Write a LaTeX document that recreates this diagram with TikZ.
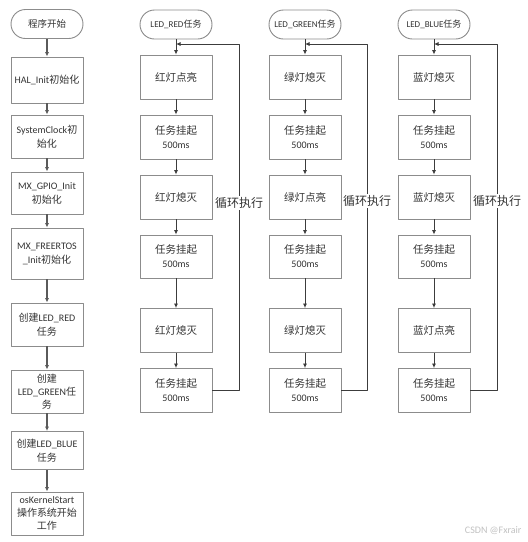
\documentclass[tikz,border=0pt]{standalone}
\usepackage{fontspec}
\setmainfont{Carlito}
\newfontfamily\zhfont{Noto Sans CJK SC}
\newcommand\zh[1]{{\zhfont #1}}
\usetikzlibrary{arrows.meta}
\definecolor{flowEdge}{HTML}{8C8C8C}
\definecolor{flowLine}{HTML}{3C3C3C}
\definecolor{flowGrey}{HTML}{5A5A5A}
\definecolor{flowInk}{HTML}{333333}
\definecolor{flowMark}{HTML}{C2C2C2}

\begin{document}
\begin{tikzpicture}[x=1pt,y=-1pt,>={Latex[length=4.5pt,width=4pt]},line join=round]
\path[fill=white] (0,0) rectangle (528,542);
\tikzset{box/.style={draw=flowEdge,fill=white,line width=0.9pt,minimum width=72pt,minimum height=44pt,align=center,text=flowInk,inner sep=1pt,font=\fontsize{10.5}{14}\selectfont},term/.style={box,rounded corners=14.5pt,minimum height=29pt},flow/.style={draw=flowLine,line width=0.8pt,->},mainflow/.style={draw=flowGrey,line width=1.3pt,->},looptext/.style={fill=white,inner sep=1pt,text=flowInk,font=\zhfont\fontsize{12}{14}\selectfont}}
% start-up sequence
\node[term,minimum width=72pt,font=\zhfont\fontsize{9.5}{12}\selectfont] (s0) at (47,24) {程序开始};
\node[box,minimum height=46pt,font=\fontsize{10}{14}\selectfont] (l1) at (47,80) {HAL\_Init\zh{初始化}};
\node[box,minimum height=43pt,font=\fontsize{10}{14}\selectfont] (l2) at (47,136.5) {SystemClock\zh{初}\\\zh{始化}};
\node[box,minimum height=42pt,font=\fontsize{10}{14}\selectfont] (l3) at (47,193) {MX\_GPIO\_Init\\\zh{初始化}};
\node[box,minimum height=51pt,font=\fontsize{10}{14}\selectfont] (l4) at (47,253.5) {MX\_FREERTOS\\\_Init\zh{初始化}};
\node[box,minimum height=43pt,font=\fontsize{10}{14}\selectfont] (l5) at (47,324.5) {\zh{创建}LED\_RED\\\zh{任务}};
\node[box,minimum height=43pt,font=\fontsize{10}{13}\selectfont] (l6) at (47,391.5) {\zh{创建}\\LED\_GREEN\zh{任}\\\zh{务}};
\node[box,minimum height=38pt,font=\fontsize{10}{14}\selectfont] (l7) at (47,450.5) {\zh{创建}LED\_BLUE\\\zh{任务}};
\node[box,minimum height=43pt,font=\fontsize{10}{13}\selectfont] (l8) at (47,513.5) {osKernelStart\\\zh{操作系统开始}\\\zh{工作}};
\foreach \a/\b in {s0/l1,l1/l2,l2/l3,l3/l4,l4/l5,l5/l6,l6/l7,l7/l8} \draw[mainflow] (\a) -- (\b);
% red task
\node[term,font=\fontsize{9}{10}\selectfont] (r0) at (176,24.5) {LED\_RED\zh{任务}};
\node[box] (r1) at (176,77) {\zh{红灯点亮}};
\node[box] (r2) at (176,137) {\zh{任务挂起}\\{\fontsize{10}{11}\selectfont 500ms}};
\node[box] (r3) at (176,197) {\zh{红灯熄灭}};
\node[box,minimum height=43pt] (r4) at (176,256.5) {\zh{任务挂起}\\{\fontsize{10}{11}\selectfont 500ms}};
\node[box] (r5) at (176,330.5) {\zh{红灯熄灭}};
\node[box] (r6) at (176,390.5) {\zh{任务挂起}\\{\fontsize{10}{11}\selectfont 500ms}};
\foreach \a/\b in {r0/r1,r1/r2,r2/r3,r3/r4,r4/r5,r5/r6} \draw[flow] (\a) -- (\b);
\coordinate (rtop) at (176,44); \coordinate (rturn) at (239,44);
\draw[flow] (r6.east) -| (rturn) -- (rtop);
\node[looptext] (rlab) at (239,203) {循环执行};
% green task
\node[term,font=\fontsize{9}{10}\selectfont] (g0) at (305,24.5) {LED\_GREEN\zh{任务}};
\node[box] (g1) at (305,77) {\zh{绿灯熄灭}};
\node[box] (g2) at (305,137) {\zh{任务挂起}\\{\fontsize{10}{11}\selectfont 500ms}};
\node[box] (g3) at (305,197) {\zh{绿灯点亮}};
\node[box,minimum height=43pt] (g4) at (305,256.5) {\zh{任务挂起}\\{\fontsize{10}{11}\selectfont 500ms}};
\node[box] (g5) at (305,330.5) {\zh{绿灯熄灭}};
\node[box] (g6) at (305,390.5) {\zh{任务挂起}\\{\fontsize{10}{11}\selectfont 500ms}};
\foreach \a/\b in {g0/g1,g1/g2,g2/g3,g3/g4,g4/g5,g5/g6} \draw[flow] (\a) -- (\b);
\coordinate (gtop) at (305,44); \coordinate (gturn) at (367,44);
\draw[flow] (g6.east) -| (gturn) -- (gtop);
\node[looptext] (glab) at (367,201) {循环执行};
% blue task
\node[term,font=\fontsize{9}{10}\selectfont] (b0) at (434,24.5) {LED\_BLUE\zh{任务}};
\node[box] (b1) at (434,77) {\zh{蓝灯熄灭}};
\node[box] (b2) at (434,137) {\zh{任务挂起}\\{\fontsize{10}{11}\selectfont 500ms}};
\node[box] (b3) at (434,197) {\zh{蓝灯熄灭}};
\node[box,minimum height=43pt] (b4) at (434,256.5) {\zh{任务挂起}\\{\fontsize{10}{11}\selectfont 500ms}};
\node[box] (b5) at (434,330.5) {\zh{蓝灯点亮}};
\node[box] (b6) at (434,390.5) {\zh{任务挂起}\\{\fontsize{10}{11}\selectfont 500ms}};
\foreach \a/\b in {b0/b1,b1/b2,b2/b3,b3/b4,b4/b5,b5/b6} \draw[flow] (\a) -- (\b);
\coordinate (btop) at (434,44); \coordinate (bturn) at (497,44);
\draw[flow] (b6.east) -| (bturn) -- (btop);
\node[looptext] (blab) at (497,201) {循环执行};
\node[anchor=east,text=flowMark,font=\fontsize{10}{11}\selectfont] (mark) at (525,531) {CSDN @Fxrair};
\end{tikzpicture}
\end{document}
